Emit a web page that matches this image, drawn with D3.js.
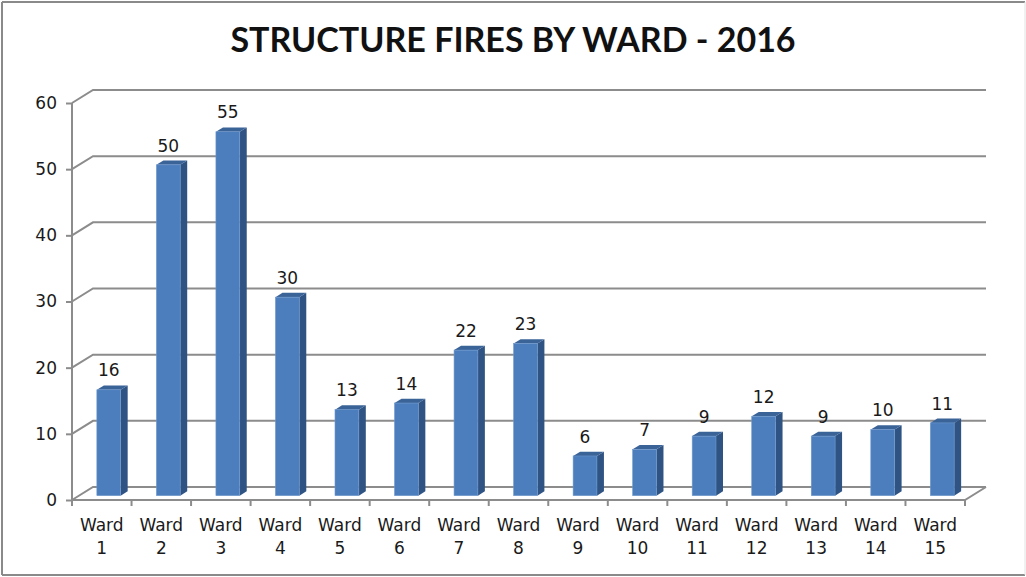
<!DOCTYPE html>
<html>
<head>
<meta charset="utf-8">
<script src="https://cdn.jsdelivr.net/npm/d3@7"></script>
<style>
  html, body { margin: 0; padding: 0; background: #fff; }
  svg { display: block; }
</style>
</head>
<body>
<svg id="chart" width="1026" height="577"></svg>
<script>
// data
var wards = ["1", "2", "3", "4", "5", "6", "7", "8", "9", "10", "11", "12", "13", "14", "15"];
var fires = [16, 50, 55, 30, 13, 14, 22, 23, 6, 7, 9, 12, 9, 10, 11];
var yTicks = [0, 10, 20, 30, 40, 50, 60];
var title = "STRUCTURE FIRES BY WARD - 2016";

var svg = d3.select("#chart");

// 3d depth vector of the plot box
var depth = { dx: 21, dy: -13 };

var x = d3.scaleBand()
    .domain(wards)
    .range([72, 965])
    .paddingInner(0)
    .paddingOuter(0);

var y = d3.scaleLinear()
    .domain([0, 60])
    .range([500, 103]);

// project a point at depth t (0 = front plane, 1 = back wall)
function px(xv, t) { return xv + depth.dx * t; }
function py(yv, t) { return yv + depth.dy * t; }

// chart border
svg.append("line").attr("x1", 2).attr("y1", 2).attr("x2", 1025).attr("y2", 2)
    .attr("stroke", "#8a8a8a").attr("stroke-width", 2);
svg.append("line").attr("x1", 2).attr("y1", 2).attr("x2", 2).attr("y2", 575)
    .attr("stroke", "#8a8a8a").attr("stroke-width", 2);
svg.append("line").attr("x1", 2).attr("y1", 575).attr("x2", 1025).attr("y2", 575)
    .attr("stroke", "#8a8a8a").attr("stroke-width", 2);
svg.append("line").attr("x1", 1025).attr("y1", 2).attr("x2", 1025).attr("y2", 575)
    .attr("stroke", "#e2e2e2").attr("stroke-width", 1);

// title
svg.append("text")
    .attr("x", 513)
    .attr("y", 52)
    .attr("text-anchor", "middle")
    .style("font-family", "Lato, 'Open Sans', sans-serif")
    .style("font-weight", "bold")
    .style("font-size", "34px")
    .style("fill", "#111")
    .text(title);

var x0 = x.range()[0], x1 = x.range()[1];
var grid = svg.append("g").attr("class", "grid");

// gridlines: diagonal on the left wall + horizontal on the back wall
yTicks.forEach(function (v) {
    var yv = y(v);
    grid.append("path")
        .attr("d", "M" + x0 + "," + yv + "L" + px(x0, 1) + "," + py(yv, 1) + "L" + px(x1, 1) + "," + py(yv, 1))
        .attr("fill", "none")
        .attr("stroke", "#8c8c8c")
        .attr("stroke-width", 2);
});

// floor right edge and front edge
grid.append("path")
    .attr("d", "M" + px(x1, 1) + "," + py(y(0), 1) + "L" + x1 + "," + y(0) + "L" + x0 + "," + y(0))
    .attr("fill", "none")
    .attr("stroke", "#8c8c8c")
    .attr("stroke-width", 2);

// y axis line
grid.append("line")
    .attr("x1", x0).attr("y1", y(60))
    .attr("x2", x0).attr("y2", y(0))
    .attr("stroke", "#8c8c8c")
    .attr("stroke-width", 2);

// y ticks + labels
var yAxis = svg.append("g")
    .attr("transform", "translate(" + x0 + ",0)")
    .call(d3.axisLeft(y).tickValues(yTicks).tickSize(6).tickPadding(9));
yAxis.select(".domain").remove();
yAxis.selectAll(".tick line").attr("stroke", "#8c8c8c").attr("stroke-width", 2);
yAxis.selectAll(".tick text")
    .style("font-family", "'DejaVu Sans', Verdana, sans-serif")
    .style("font-size", "17px")
    .style("fill", "#1a1a1a");

// category ticks at band boundaries
var bounds = wards.map(function (w) { return x(w); }).concat([x1]);
svg.append("g").selectAll("line")
    .data(bounds)
    .join("line")
    .attr("x1", function (d) { return d; })
    .attr("x2", function (d) { return d; })
    .attr("y1", y(0))
    .attr("y2", y(0) + 6)
    .attr("stroke", "#8c8c8c")
    .attr("stroke-width", 2);

// category labels, two lines
var catLabels = svg.append("g").selectAll("text")
    .data(wards)
    .join("text")
    .attr("text-anchor", "middle")
    .style("font-family", "'DejaVu Sans', Verdana, sans-serif")
    .style("font-size", "17px")
    .style("fill", "#1a1a1a");
catLabels.append("tspan")
    .attr("x", function (d) { return x(d) + x.bandwidth() / 2; })
    .attr("y", 531)
    .text("Ward");
catLabels.append("tspan")
    .attr("x", function (d) { return x(d) + x.bandwidth() / 2; })
    .attr("y", 554)
    .text(function (d) { return d; });

// 3d bars: front plane at 1/3 depth, back at 2/3
var barW = x.bandwidth() * 0.4;
var tf = 1 / 3, tb = 2 / 3;
var bars = svg.append("g").selectAll("g")
    .data(wards.map(function (w, i) { return { ward: w, value: fires[i] }; }))
    .join("g");

function pts(arr) {
    return arr.map(function (p) { return p[0] + "," + p[1]; }).join(" ");
}

bars.each(function (d) {
    var g = d3.select(this);
    var cx = x(d.ward) + x.bandwidth() / 2;
    var l = cx - barW / 2, r = cx + barW / 2;
    var top = y(d.value), bot = y(0);

    // side face
    g.append("polygon")
        .attr("points", pts([
            [px(r, tf), py(bot, tf)], [px(r, tb), py(bot, tb)],
            [px(r, tb), py(top, tb)], [px(r, tf), py(top, tf)]
        ]))
        .attr("fill", "#2f5383");
    // top face
    g.append("polygon")
        .attr("points", pts([
            [px(l, tf), py(top, tf)], [px(r, tf), py(top, tf)],
            [px(r, tb), py(top, tb)], [px(l, tb), py(top, tb)]
        ]))
        .attr("fill", "#3a6398");
    // front face
    g.append("rect")
        .attr("x", px(l, tf))
        .attr("y", py(top, tf))
        .attr("width", barW)
        .attr("height", bot - top)
        .attr("fill", "#4c7ebd")
        .attr("stroke", "#6f98cc")
        .attr("stroke-width", 0.6);

    // value label
    g.append("text")
        .attr("x", px(cx, tf))
        .attr("y", py(top, tb) - 9)
        .attr("text-anchor", "middle")
        .style("font-family", "'DejaVu Sans', Verdana, sans-serif")
        .style("font-size", "17px")
        .style("fill", "#1a1a1a")
        .text(d.value);
});
</script>
</body>
</html>
